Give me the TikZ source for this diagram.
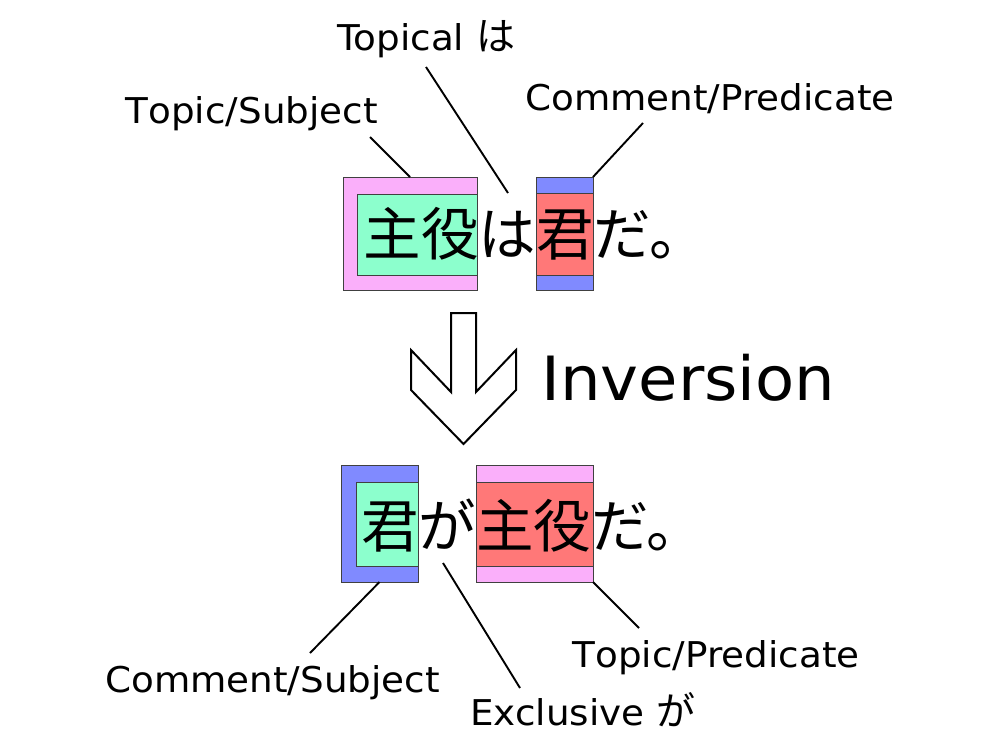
\documentclass[tikz,border=0pt]{standalone}
\usepackage{fontspec}
\setmainfont{DejaVu Sans}[FakeStretch=1.05]
\newfontfamily\jp{Noto Sans CJK JP}
\definecolor{pinkbox}{RGB}{250,175,250}
\definecolor{greenbox}{RGB}{140,255,205}
\definecolor{bluebox}{RGB}{128,138,255}
\definecolor{redbox}{RGB}{255,120,120}
\newcommand{\sentfont}{\jp\fontsize{57.5}{60}\selectfont}
\newcommand{\labfont}{\fontsize{35.5}{40}\selectfont}
\newcommand{\labkana}[1]{{\jp\fontsize{39}{42}\selectfont #1}}
\begin{document}
\begin{tikzpicture}[x=1pt, y=-1pt,
    frame/.style={draw=black!75, line width=0.8pt, inner sep=0pt, outer sep=0pt},
    lab/.style={anchor=base west, inner sep=0pt, font=\labfont},
    sent/.style={anchor=base west, inner sep=0pt, font=\sentfont},
    leader/.style={line width=1.9pt}]
    \useasboundingbox (0,0) rectangle (1000,750);

    % Top sentence: boxes
    \node[frame, fill=pinkbox, minimum width=134pt, minimum height=113pt] (topicA) at (410,233.5) {};
    \node[frame, fill=greenbox, minimum width=120pt, minimum height=81pt] (subjA) at (417,234.5) {};
    \node[frame, fill=bluebox, minimum width=57pt, minimum height=113pt] (commentA) at (564.5,233.5) {};
    \node[frame, fill=redbox, minimum width=57pt, minimum height=82pt] (predA) at (564.5,234) {};
    \node[sent] (sentA) at (363.5,255.7) {主役は君だ。};

    % Top labels
    \node[lab] (tslab) at (125,123) {T\kern0.5ptopic/Subject};
    \node[lab] (walab) at (337,50) {Topical \labkana{は}};
    \node[lab] (cplab) at (525,110) {Comment/Predicate};

    \coordinate (tsend) at (370,137);
    \coordinate (watop) at (426,67);
    \coordinate (wabot) at (508,193);
    \coordinate (cpend) at (643,123);
    \draw[leader] (tsend) -- (topicA.north);
    \draw[leader] (watop) -- (wabot);
    \draw[leader] (cpend) -- (commentA.north east);

    % Arrow
    \draw[line width=2pt, line join=miter] (451,313) -- (476,313) -- (476,392) -- (516,350)
        -- (516,390) -- (463.5,444) -- (411,390) -- (411,350) -- (451,392) -- cycle;
    \node[anchor=base west, inner sep=0pt, font=\fontsize{61}{64}\selectfont] (inv) at (541,400) {Inversion};

    % Bottom sentence: boxes
    \node[frame, fill=bluebox, minimum width=77pt, minimum height=117pt] (commentB) at (379.5,523.5) {};
    \node[frame, fill=greenbox, minimum width=62pt, minimum height=84pt] (subjB) at (387,524) {};
    \node[frame, fill=pinkbox, minimum width=117pt, minimum height=117pt] (topicB) at (534.5,523.5) {};
    \node[frame, fill=redbox, minimum width=117pt, minimum height=84pt] (predB) at (534.5,524) {};
    \node[sent] (sentB) at (361,547.5) {君が主役だ。};

    % Bottom labels
    \node[lab] (cslab) at (105,692) {Comment/Subject};
    \node[lab] (galab) at (470,725) {Exclusive \labkana{が}};
    \node[lab] (tplab) at (572,667) {T\kern0.5ptopic/Predicate};

    \coordinate (csend) at (310,653);
    \coordinate (gatop) at (443,563);
    \coordinate (gabot) at (520,688);
    \coordinate (tpend) at (639,628);
    \draw[leader] (commentB.south) -- (csend);
    \draw[leader] (gatop) -- (gabot);
    \draw[leader] (topicB.south east) -- (tpend);
\end{tikzpicture}
\end{document}
